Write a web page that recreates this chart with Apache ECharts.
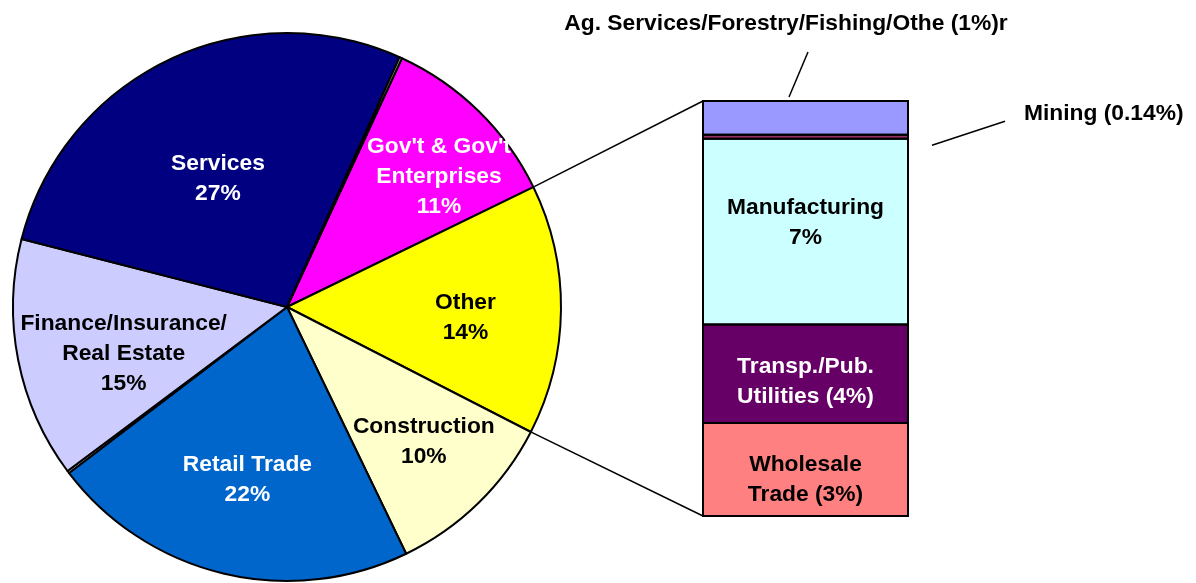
<!DOCTYPE html>
<html><head><meta charset="utf-8">
<script src="https://cdn.jsdelivr.net/npm/echarts@6/dist/echarts.min.js"></script>
<style>html,body{margin:0;padding:0;background:#fff}#c{width:1196px;height:583px}</style>
</head><body><div id="c"></div>
<script>
// Pie slices, clockwise starting at the Services / Gov't boundary
const pieCategories = ["Gov't & Gov't\nEnterprises", 'Other', 'Construction', 'Retail Trade', '', 'Finance/Insurance/\nReal Estate', 'Services', ''];
const pieValues = [10.9, 14.75, 10.3, 21.8, 0.15, 14.2, 27.75, 0.15];
const piePercentLabels = ['11%', '14%', '10%', '22%', '', '15%', '27%', ''];
const pieColors = ['#FF00FF', '#FFFF00', '#FFFFCC', '#0066CC', '#C0C0C0', '#CCCCFF', '#000080', '#C0C0C0'];
const pieLabelColors = ['#ffffff', '#000000', '#000000', '#ffffff', '#000000', '#000000', '#ffffff', '#000000'];
const pieLabelShift = [[54, -30], [38.5, 9.6], [39, 34.6], [-7, 37], [0, 0], [-26, 20], [-8.4, -2.6], [0, 0]];

// Bar breaking down "Other", bottom to top
const barCategories = ['Wholesale\nTrade (3%)', 'Transp./Pub.\nUtilities (4%)', 'Manufacturing\n7%', 'Mining (0.14%)', 'Ag. Services/Forestry/Fishing/Othe (1%)r'];
const barValues = [3.3, 3.5, 6.6, 0.14, 1.2];
const barColors = ['#FF8080', '#660066', '#CCFFFF', '#993366', '#9999FF'];
const barLabelColors = ['#000000', '#ffffff', '#000000', '#000000', '#000000'];
const barLabelPos = ['inside', 'inside', 'inside', 'right', 'top'];
const barLabelOffset = [[0, 10], [0, 8], [0, -9], [111, -23.5], [-19.5, -57]];

const FONT = "'Liberation Sans', Arial, Helvetica, sans-serif";
const FS = 22.8, LH = 30;
const CX = 287, CY = 307, R = 274;
const START = 24.8; // degrees clockwise from 12 o'clock
const GRID = {left: 703, top: 101, width: 205, height: 415};

const chart = echarts.init(document.getElementById('c'), null, {renderer: 'canvas'});

const pieData = pieCategories.map((n, i) => ({
  name: n, value: pieValues[i],
  itemStyle: {color: pieColors[i]},
  label: {show: n !== '', color: pieLabelColors[i],
    formatter: () => n + '\n' + piePercentLabels[i]}
}));

const barTotal = barValues.reduce((a, b) => a + b, 0);
const cum = [];
barValues.reduce((acc, v, i) => { cum[i] = acc; return acc + v; }, 0);

const barSeries = barCategories.map((n, i) => ({
  type: 'bar', stack: 'other', name: n, barWidth: '100%',
  data: [barValues[i]],
  itemStyle: {color: barColors[i], borderWidth: 0},
  label: {show: true, position: barLabelPos[i], offset: barLabelOffset[i],
    formatter: () => n, color: barLabelColors[i],
    fontFamily: FONT, fontWeight: 'bold', fontSize: FS, lineHeight: LH, align: barLabelPos[i] === 'right' ? 'left' : 'center'},
  emphasis: {disabled: true}, silent: true, animation: false
}));

const outlineSeries = {
  type: 'custom', silent: true, z: 5, animation: false,
  data: barValues.map((v, i) => [0, cum[i], cum[i] + v]),
  encode: {x: 0, y: [1, 2]},
  renderItem: (params, api) => {
    const b = api.coord([api.value(0), api.value(1)]);
    const t = api.coord([api.value(0), api.value(2)]);
    const w = api.size([1, 0])[0];
    return {type: 'rect', shape: {x: b[0] - w / 2, y: t[1], width: w, height: b[1] - t[1]},
      style: {fill: null, stroke: '#000', lineWidth: 2}};
  }
};

chart.setOption({
  animation: false,
  backgroundColor: '#ffffff',
  grid: Object.assign({containLabel: false}, GRID),
  xAxis: {type: 'category', data: ['Other'], show: false},
  yAxis: {type: 'value', min: 0, max: barTotal, show: false},
  series: [{
    type: 'pie', center: [CX, CY], radius: R,
    startAngle: 90 - START, clockwise: true,
    avoidLabelOverlap: false, silent: true,
    itemStyle: {borderColor: '#000', borderWidth: 2},
    label: {position: 'inside', fontFamily: FONT, fontWeight: 'bold', fontSize: FS, lineHeight: LH, align: 'center'},
    labelLine: {show: false},
    labelLayout: p => ({dx: pieLabelShift[p.dataIndex][0], dy: pieLabelShift[p.dataIndex][1]}),
    data: pieData
  }].concat(barSeries, [outlineSeries])
});

// connector and leader lines derived from data (added straight to the renderer, no relayout)
const sum = pieValues.reduce((a, b) => a + b, 0);
const a1 = START + pieValues[0] / sum * 360;
const a2 = a1 + pieValues[1] / sum * 360;
const rim = a => { const r = a * Math.PI / 180; return [CX + (R + 1) * Math.sin(r), CY - (R + 1) * Math.cos(r)]; };
const p1 = rim(a1), p2 = rim(a2);
const topY = chart.convertToPixel({gridIndex: 0}, [0, barTotal])[1];
const botY = chart.convertToPixel({gridIndex: 0}, [0, 0])[1];
const minY = chart.convertToPixel({gridIndex: 0}, [0, barTotal - barValues[4] - barValues[3] / 2])[1];
const L = GRID.left, Rt = GRID.left + GRID.width;
const ls = {stroke: '#000', lineWidth: 1.5};
const zr = chart.getZr();
[
  [p1[0], p1[1], L, topY],
  [p2[0], p2[1], L, botY],
  [L + 86, topY - 4, L + 105, topY - 49],
  [Rt + 24, minY + 8.5, Rt + 97, minY - 15.5]
].forEach(s => {
  zr.add(new echarts.graphic.Line({shape: {x1: s[0], y1: s[1], x2: s[2], y2: s[3]}, style: ls, silent: true, z: 10}));
});
</script>
</body></html>
